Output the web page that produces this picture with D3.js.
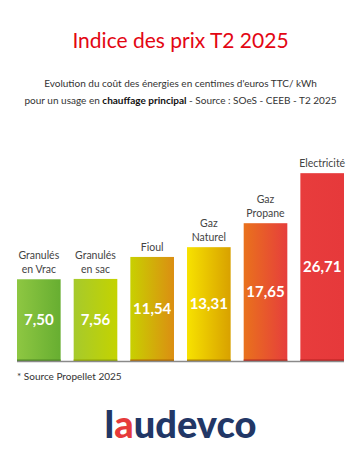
<!DOCTYPE html>
<html>
<head>
<meta charset="utf-8">
<script src="https://cdn.jsdelivr.net/npm/d3@7"></script>
<style>
  body { margin:0; background:#fff; }
  text { font-family: Lato, "Open Sans", sans-serif; }
</style>
</head>
<body>
<svg id="chart"></svg>
<script>
var energies = ["Granulés en Vrac","Granulés en sac","Fioul","Gaz Naturel","Gaz Propane","Electricité"]
var labelLines = [["Granulés","en Vrac"],["Granulés","en sac"],["Fioul"],["Gaz","Naturel"],["Gaz","Propane"],["Electricité"]]
var prices = [7.50, 7.56, 11.54, 13.31, 17.65, 26.71]
var colorsLeft = ["#8ec742","#a6ca2c","#c8d000","#f7e200","#e9721c","#e83c3c"]
var colorsRight = ["#67ae31","#c4d300","#db8e12","#d8a100","#e63e3c","#e6393b"]
var colorsEdge = ["#4e8a22","#8fa500","#b06a00","#b08200","#b52a20","#b82020"]

var screen = {width:361, height:461}
var margins = {left:17, right:17}
var baseY = 361

var svg = d3.select("#chart")
    .attr("width",screen.width)
    .attr("height",screen.height)

// title + subtitle
svg.append("text")
    .attr("x",screen.width/2)
    .attr("y",48)
    .attr("text-anchor","middle")
    .attr("fill","#e30613")
    .style("font-size","21px")
    .text("Indice des prix T2 2025")

svg.append("text")
    .attr("x",screen.width/2)
    .attr("y",87)
    .attr("text-anchor","middle")
    .attr("fill","#333")
    .style("font-size","10px")
    .text("Evolution du coût des énergies en centimes d'euros TTC/ kWh")

var sub2 = svg.append("text")
    .attr("x",screen.width/2)
    .attr("y",104)
    .attr("text-anchor","middle")
    .attr("fill","#333")
    .style("font-size","10px")
sub2.append("tspan").text("pour un usage en ")
sub2.append("tspan").style("font-weight","bold").attr("fill","#111").text("chauffage principal")
sub2.append("tspan").text(" - Source : SOeS - CEEB - T2 2025")

// scales
var xScale = d3.scaleBand()
    .domain(energies)
    .range([margins.left, screen.width-margins.right])
    .paddingInner(0.23)
    .paddingOuter(0)

// the original isn't drawn to scale: fitted line with an offset floor
var yScale = d3.scaleLinear()
    .domain([-7.3, 30])
    .range([baseY, baseY-206])

var defs = svg.append("defs")
energies.forEach(function(e,i)
{
    var g = defs.append("linearGradient")
        .attr("id","grad"+i)
        .attr("x1","0%").attr("x2","100%")
        .attr("y1","0%").attr("y2","0%")
    g.append("stop").attr("offset","0%").attr("stop-color",colorsLeft[i])
    g.append("stop").attr("offset","100%").attr("stop-color",colorsRight[i])
})

var bars = svg.append("g").classed("graph",true)

bars.selectAll("rect.bar")
    .data(prices)
    .enter()
    .append("rect")
    .classed("bar",true)
    .attr("x",function(d,i){return xScale(energies[i])})
    .attr("y",function(d){return yScale(d)})
    .attr("width",xScale.bandwidth())
    .attr("height",function(d){return baseY-yScale(d)})
    .attr("fill",function(d,i){return "url(#grad"+i+")"})

// darker edge at the foot of each bar
bars.selectAll("rect.edge")
    .data(prices)
    .enter()
    .append("rect")
    .classed("edge",true)
    .attr("x",function(d,i){return xScale(energies[i])})
    .attr("y",baseY-1.5)
    .attr("width",xScale.bandwidth())
    .attr("height",1.5)
    .attr("fill",function(d,i){return colorsEdge[i]})

svg.append("line")
    .attr("x1",margins.left)
    .attr("x2",screen.width-margins.right)
    .attr("y1",baseY+0.5)
    .attr("y2",baseY+0.5)
    .attr("stroke","#8a8a8a")
    .attr("stroke-width",1.5)

// value labels, centred in the bar
bars.selectAll("text.value")
    .data(prices)
    .enter()
    .append("text")
    .classed("value",true)
    .attr("x",function(d,i){return xScale(energies[i])+xScale.bandwidth()/2})
    .attr("y",function(d){return (yScale(d)+baseY)/2+5})
    .attr("text-anchor","middle")
    .attr("fill","#fff")
    .style("font-size","15px")
    .style("font-weight","bold")
    .text(function(d){return d3.format(".2f")(d).replace(".",",")})

// category labels above the bars
var cats = bars.selectAll("text.cat")
    .data(prices)
    .enter()
    .append("text")
    .classed("cat",true)
    .attr("text-anchor","middle")
    .attr("fill","#444")
    .style("font-size","10.5px")

cats.each(function(d,i)
{
    var lines = labelLines[i]
    var cx = xScale(energies[i])+xScale.bandwidth()/2
    var top = yScale(d)
    d3.select(this).selectAll("tspan")
        .data(lines)
        .enter()
        .append("tspan")
        .attr("x",cx)
        .attr("y",function(l,j){return top-6-(lines.length-1-j)*14})
        .text(function(l){return l})
})

// footnote
svg.append("text")
    .attr("x",17)
    .attr("y",380)
    .attr("fill","#333")
    .style("font-size","10px")
    .text("* Source Propellet 2025")

// logo
var logo = svg.append("text")
    .attr("x",screen.width/2)
    .attr("y",438)
    .attr("text-anchor","middle")
    .attr("fill","#223766")
    .style("font-size","38px")
    .style("font-weight","900")
    .style("letter-spacing","0px")
logo.append("tspan").text("l")
logo.append("tspan").attr("fill","#e63b3b").text("a")
logo.append("tspan").text("udevco")
</script>
</body>
</html>
